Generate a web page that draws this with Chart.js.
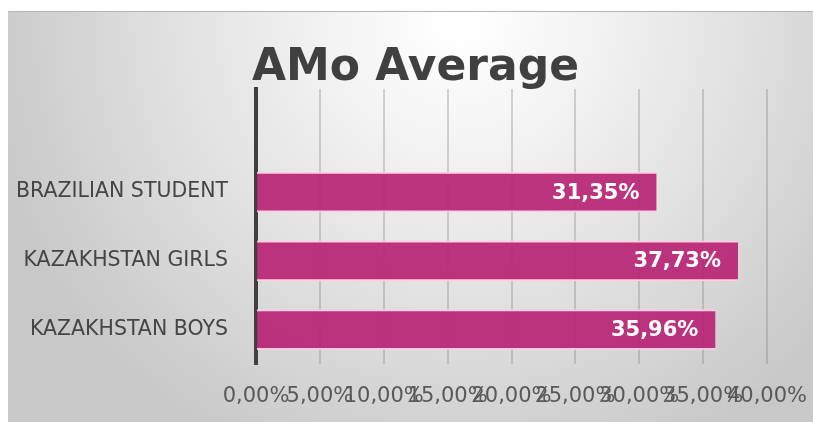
<!DOCTYPE html>
<html>
<head>
<meta charset="utf-8">
<script src="https://cdn.jsdelivr.net/npm/chart.js@4/dist/chart.umd.min.js"></script>
<style>
  html, body { margin: 0; padding: 0; background: #fff; }
  #wrap { position: absolute; left: 8px; top: 11px; width: 805px; height: 411px; border-top: 1px solid #b4b4b4; }
  canvas { display: block; }
</style>
</head>
<body>
<div id="wrap"><canvas id="amoChart" width="805" height="410"></canvas></div>
<script>
// top row stays empty, the plot area leaves room under the title
const GROUPS = ['', 'BRAZILIAN STUDENT', 'KAZAKHSTAN GIRLS', 'KAZAKHSTAN BOYS'];
const AMO_AVG = [null, 31.35, 37.73, 35.96];
const X_MIN = 0, X_MAX = 40, X_STEP = 5;
const TITLE = 'AMo Average';

const BAR_COLOR = 'rgba(184,38,116,0.93)';

function fmtPct(v) { return v.toFixed(2).replace('.', ',') + '%'; }

// soft grey panel, lighter near the title
const panelBg = {
    id: 'panelBg',
    beforeDraw(chart) {
        const { ctx, width, height } = chart;
        const g = ctx.createRadialGradient(width * 0.56, height * 0.02, 10, width * 0.56, height * 0.02, width * 0.6);
        g.addColorStop(0, '#ffffff');
        g.addColorStop(0.25, '#f3f3f3');
        g.addColorStop(0.6, '#e0e0e0');
        g.addColorStop(1, '#c8c8c8');
        ctx.save();
        ctx.fillStyle = g;
        ctx.fillRect(0, 0, width, height);
        ctx.restore();
    },
    afterDraw(chart) {
        // heading sits a little right of the canvas centre
        const { ctx, width } = chart;
        ctx.save();
        ctx.font = 'bold 44px "DejaVu Sans"';
        ctx.fillStyle = '#404040';
        ctx.textAlign = 'center';
        ctx.textBaseline = 'alphabetic';
        ctx.fillText(TITLE, width / 2 + 5, 68);
        ctx.restore();
    }
};

// value labels inside the end of each bar
const barValues = {
    id: 'barValues',
    afterDatasetsDraw(chart) {
        const { ctx } = chart;
        const meta = chart.getDatasetMeta(0);
        ctx.save();
        ctx.font = 'bold 21px "DejaVu Sans"';
        ctx.fillStyle = '#ffffff';
        ctx.textAlign = 'right';
        ctx.textBaseline = 'middle';
        meta.data.forEach((bar, i) => {
            const v = AMO_AVG[i];
            if (v == null) return;
            ctx.fillText(fmtPct(v), bar.x - 17, bar.y + 1);
        });
        ctx.restore();
    }
};

new Chart(document.getElementById('amoChart'), {
    type: 'bar',
    data: {
        labels: GROUPS,
        datasets: [{
            data: AMO_AVG,
            backgroundColor: BAR_COLOR,
            borderColor: 'rgba(255,205,228,0.95)',
            borderWidth: { top: 2, bottom: 2, left: 0, right: 0 },
            barThickness: 40
        }]
    },
    options: {
        indexAxis: 'y',
        responsive: false,
        animation: false,
        layout: { padding: { left: 0, right: 46, top: 77, bottom: 0 } },
        plugins: {
            legend: { display: false },
            tooltip: { enabled: false },
            title: { display: false }
        },
        scales: {
            x: {
                min: X_MIN, max: X_MAX,
                afterFit(scale) {
                    scale.height = 58;
                    scale.paddingLeft = 0;
                    scale.paddingRight = 0;
                },
                border: { display: false },
                grid: { color: 'rgba(120,120,120,0.3)', lineWidth: 2, drawTicks: false },
                ticks: {
                    stepSize: X_STEP,
                    autoSkip: false,
                    maxRotation: 0,
                    padding: 20,
                    color: '#595959',
                    font: { family: '"DejaVu Sans"', size: 21 },
                    callback: v => fmtPct(v)
                }
            },
            y: {
                afterFit(scale) { scale.width = 248; },
                border: { display: true, color: '#404040', width: 4 },
                grid: { display: false },
                ticks: {
                    padding: 20,
                    color: '#454545',
                    font: { family: '"DejaVu Sans"', size: 20.5 }
                }
            }
        }
    },
    plugins: [panelBg, barValues]
});
</script>
</body>
</html>
